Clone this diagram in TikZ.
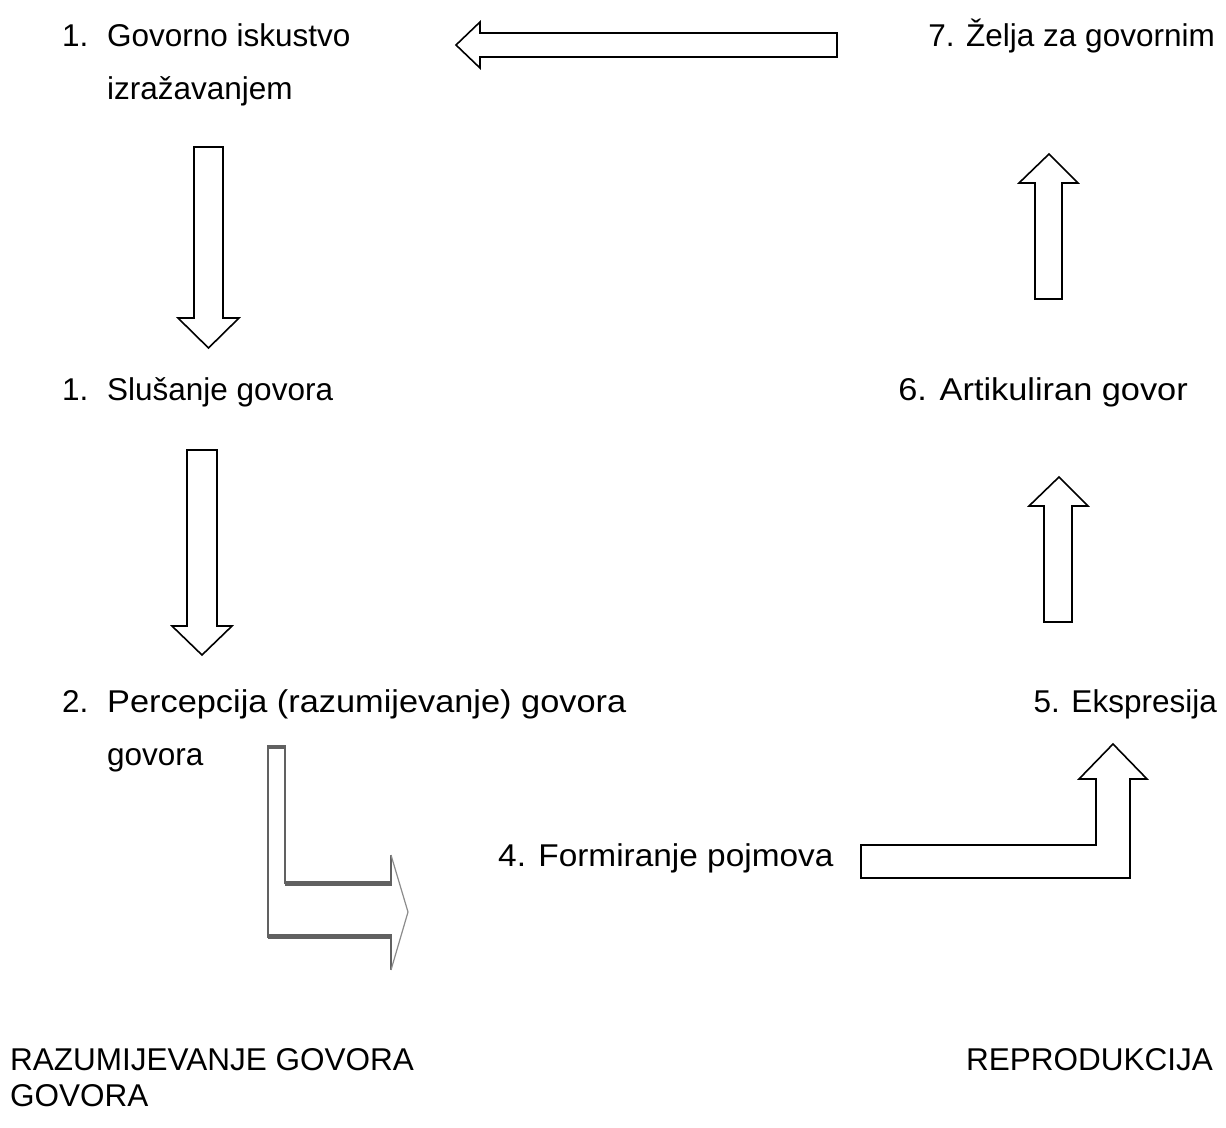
\documentclass[tikz,border=0pt]{standalone}
\usepackage{fontspec}
\setmainfont{Liberation Sans}
\begin{document}
\begin{tikzpicture}[x=1pt,y=-1pt,
  lbl/.style={inner sep=0pt,anchor=base west,font=\fontsize{31.5}{38}\selectfont},
  lblr/.style={inner sep=0pt,anchor=base east,font=\fontsize{31.5}{38}\selectfont},
  blockarrow/.style={draw=black,fill=white,line width=1.6pt,line join=miter},
  grayarrow/.style={draw=black!62,fill=white,line width=1.3pt}]
\useasboundingbox[fill=white] (0,0) rectangle (1226,1127);
% texts
\node[lbl] (n1a) at (62,46) {1.};
\node[lbl] (t1a) at (107,46) {Govorno iskustvo};
\node[lbl] (t1b) at (107,99) {izražavanjem};
\node[lblr] (t7) at (1215,46) {7. Želja za govornim};
\node[lbl] (n1b) at (62,400) {1.};
\node[lbl] (t1c) at (107,400) {Slušanje govora};
\node[lblr] (t6) at (1188,400) {\scalebox{1.09}[1]{6. Artikuliran govor}};
\node[lbl] (n2) at (62,712) {2.};
\node[lbl] (t2a) at (107,712) {\scalebox{1.09}[1]{Percepcija (razumijevanje) govora}};
\node[lbl] (t2b) at (107,765) {govora};
\node[lblr] (t5) at (1217,712) {5. Ekspresija};
\node[lbl] (t4) at (498,866) {\scalebox{1.06}[1]{4. Formiranje pojmova}};
\node[lbl] (tr) at (10,1070) {RAZUMIJEVANJE GOVORA};
\node[lblr] (tp) at (1213,1070) {REPRODUKCIJA};
\node[lbl] (tg) at (10,1106) {GOVORA};
% block arrows
\draw[blockarrow] (837,33) -- (480,33) -- (480,22) -- (456,45) -- (480,68) -- (480,57) -- (837,57) -- cycle;
\draw[blockarrow] (194,147) -- (223,147) -- (223,318) -- (239,318) -- (208.5,348) -- (178,318) -- (194,318) -- cycle;
\draw[blockarrow] (187,450) -- (217,450) -- (217,626) -- (232,626) -- (202,655) -- (172,626) -- (187,626) -- cycle;
\draw[blockarrow] (1035,299) -- (1035,183) -- (1019,183) -- (1049,154) -- (1078,183) -- (1062,183) -- (1062,299) -- cycle;
\draw[blockarrow] (1044,622) -- (1044,506) -- (1029,506) -- (1059,477) -- (1088,506) -- (1072,506) -- (1072,622) -- cycle;
\draw[blockarrow] (861,878) -- (861,845) -- (1096,845) -- (1096,779) -- (1079,779) -- (1113,744) -- (1147,779) -- (1130,779) -- (1130,878) -- cycle;
% gray bent arrow
\path[fill=white] (268,745) -- (285,745) -- (285,884) -- (391,884) -- (391,855) -- (408,912) -- (391,970) -- (391,938) -- (268,938) -- cycle;
\draw[grayarrow] (268,745) -- (268,938);
\draw[grayarrow] (285,745) -- (285,884);
\draw[grayarrow] (391,884) -- (391,855);
\draw[grayarrow] (391,938) -- (391,970);
\draw[draw=black!45,line width=1.2pt] (391,855) -- (408,912) -- (391,970);
\draw[draw=black!62,line width=4pt] (267,746.5) -- (286,746.5);
\draw[draw=black!62,line width=5pt] (285,883.5) -- (392,883.5);
\draw[draw=black!62,line width=5pt] (268,936.5) -- (392,936.5);
\end{tikzpicture}
\end{document}
